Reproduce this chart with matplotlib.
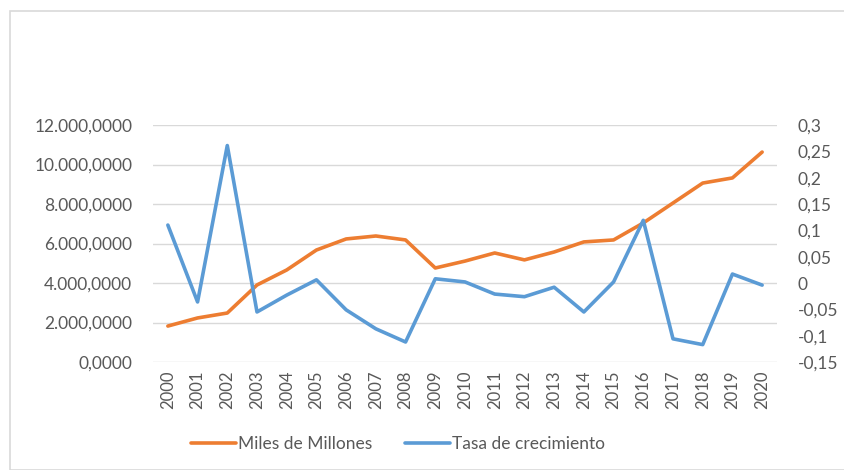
import matplotlib
matplotlib.use("Agg")
import matplotlib.pyplot as plt
from matplotlib.patches import Rectangle
from matplotlib.ticker import FuncFormatter

years = [str(y) for y in range(2000, 2021)]
miles_millones = [1820, 2230, 2480, 3900, 4660, 5670, 6230, 6380, 6180, 4760,
                  5110, 5520, 5170, 5570, 6080, 6180, 7040, 8050, 9060, 9320, 10630]
tasa = [0.110, -0.036, 0.261, -0.055, -0.023, 0.006, -0.051, -0.087, -0.112, 0.008,
        0.002, -0.021, -0.026, -0.008, -0.055, 0.002, 0.119, -0.106, -0.117, 0.017, -0.004]

left_ticks = [0, 2000, 4000, 6000, 8000, 10000, 12000]
right_ticks = [-0.15, -0.1, -0.05, 0, 0.05, 0.1, 0.15, 0.2, 0.25, 0.3]

plt.rcParams['font.family'] = ['Lato', 'DejaVu Sans']
gray = '#595959'
orange = '#ED7D31'
blue = '#5B9BD5'

fig = plt.figure(figsize=(8.45, 4.70), dpi=100)
fig.patches.append(Rectangle((10/845, 0), 1, 1 - 11/470, transform=fig.transFigure,
                             fill=False, edgecolor='#d9d9d9', linewidth=1.2))
ax = fig.add_axes([153/845, 1 - 362/470, (777-153)/845, (362-125)/470])
ax2 = ax.twinx()

x = list(range(len(years)))
l1, = ax.plot(x, miles_millones, color=orange, linewidth=2.6, label='Miles de Millones', solid_capstyle='round')
l2, = ax2.plot(x, tasa, color=blue, linewidth=2.6, label='Tasa de crecimiento', solid_capstyle='round')
ax2.set_zorder(1)

ax.set_xlim(-0.5, len(years) - 0.5)
ax.set_ylim(0, 12000)
ax2.set_ylim(-0.15, 0.3)
ax.set_yticks(left_ticks)
ax2.set_yticks(right_ticks)

def fmt_left(v, pos):
    s = f"{v:,.4f}"
    return s.replace(',', 'X').replace('.', ',').replace('X', '.')

def fmt_right(v, pos):
    s = f"{v:.2f}".rstrip('0').rstrip('.')
    if s in ('-0', '0.'):
        s = '0'
    return s.replace('.', ',')

ax.yaxis.set_major_formatter(FuncFormatter(fmt_left))
ax2.yaxis.set_major_formatter(FuncFormatter(fmt_right))
ax.set_xticks(x)
ax.set_xticklabels(years, rotation=90)

ax.grid(axis='y', color='#d9d9d9', linewidth=1)
ax.set_axisbelow(True)
for a in (ax, ax2):
    for s in a.spines.values():
        s.set_visible(False)
    a.tick_params(length=0, colors=gray, labelsize=12.5)
ax.tick_params(axis='x', labelsize=12, pad=6)
ax.tick_params(axis='y', pad=15)
ax2.tick_params(axis='y', pad=15)

fig.legend(handles=[l1, l2], loc='center', bbox_to_anchor=(398/845, 1 - 444/470),
           ncol=2, frameon=False, fontsize=12.5, labelcolor=gray, handlelength=2.6,
           handletextpad=0.1, columnspacing=1.9)

fig.savefig('out.png', dpi=100, facecolor='white')
